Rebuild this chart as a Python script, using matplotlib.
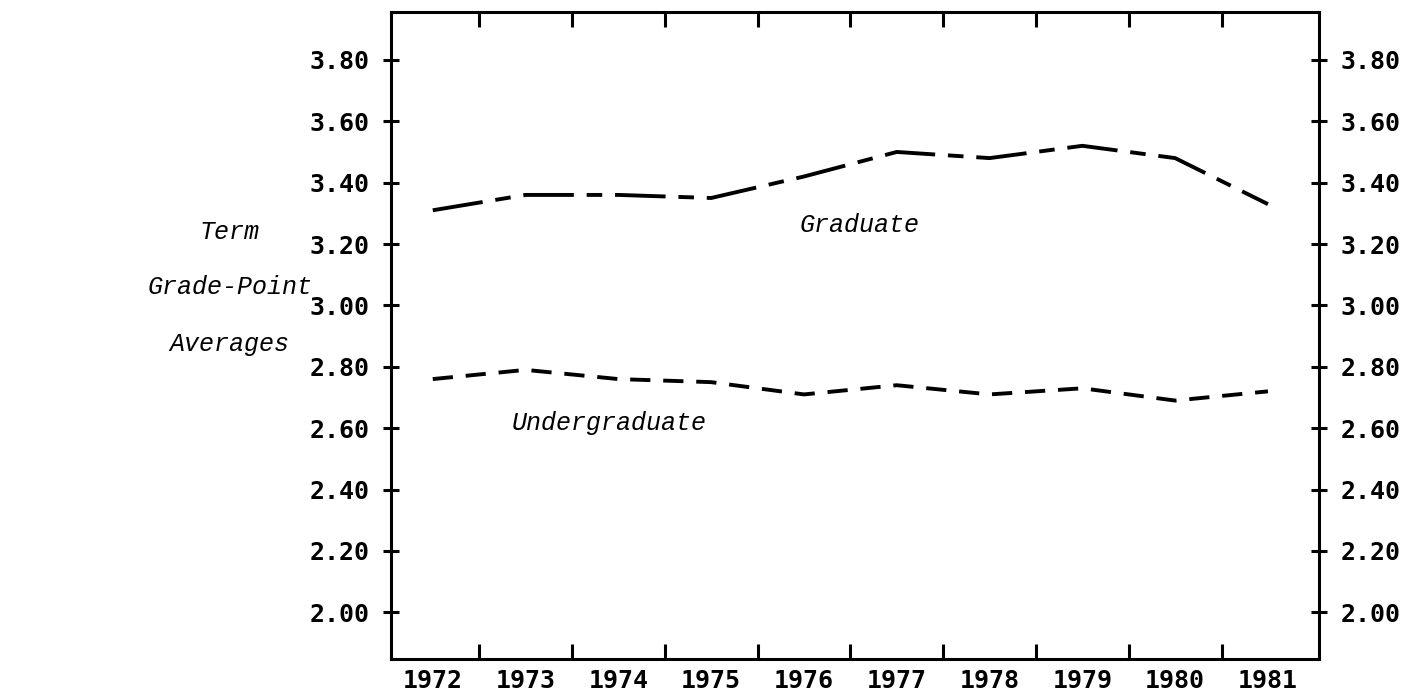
import matplotlib
matplotlib.use("Agg")
import matplotlib.pyplot as plt
import numpy as np

# data
years = [1972, 1973, 1974, 1975, 1976, 1977, 1978, 1979, 1980, 1981]
graduate = [3.31, 3.36, 3.36, 3.35, 3.42, 3.50, 3.48, 3.52, 3.48, 3.33]
undergraduate = [2.76, 2.79, 2.76, 2.75, 2.71, 2.74, 2.71, 2.73, 2.69, 2.72]
gpa_ticks = [2.00, 2.20, 2.40, 2.60, 2.80, 3.00, 3.20, 3.40, 3.60, 3.80]
ylabel_lines = ["Term", "Grade-Point", "Averages"]

tick_font = "DejaVu Sans Mono"
note_font = "Liberation Mono"

fig = plt.figure(figsize=(14.27, 6.98), dpi=100)
ax = fig.add_axes([0.274, 0.0559, 0.6503, 0.9269])

# the two series, drawn with the old pen-plotter dash styles
ax.plot(years, graduate, color="black", lw=2.8,
        linestyle=(0, (13, 3.3, 4, 3.3)))
ax.plot(years, undergraduate, color="black", lw=2.8,
        linestyle=(0, (5.2, 3.3)))

ax.set_xlim(1971.55, 1981.55)
ax.set_ylim(1.848, 3.956)

# year labels sit between the ticks, ticks mark the year boundaries
ax.set_xticks(years)
ax.set_xticklabels([str(y) for y in years], fontfamily=tick_font,
                   fontsize=18, fontweight="bold")
ax.set_xticks(np.array(years[:-1]) + 0.5, minor=True)
ax.tick_params(axis="x", which="major", length=0, pad=7)
ax.tick_params(axis="x", which="minor", direction="in", length=11, width=2.2,
               top=True, bottom=True)

# GPA scale on both sides
ax.set_yticks(gpa_ticks)
ax.set_yticklabels(["%.2f" % v for v in gpa_ticks], fontfamily=tick_font,
                   fontsize=18, fontweight="bold")
ax.tick_params(axis="y", which="major", direction="inout", length=11, width=2.2,
               left=True, right=True, labelleft=True, labelright=True, pad=10)

for spine in ax.spines.values():
    spine.set_linewidth(2.2)

# series labels
ax.text(1976.6, 3.262, "Graduate", fontfamily=note_font, style="italic",
        fontsize=18, ha="center", va="center")
ax.text(1973.9, 2.618, "Undergraduate", fontfamily=note_font, style="italic",
        fontsize=18, ha="center", va="center")

# stacked y-axis caption on the far left
for label, yfrac in zip(ylabel_lines, [0.668, 0.589, 0.507]):
    fig.text(0.161, yfrac, label, fontfamily=note_font, style="italic",
             fontsize=18, ha="center", va="center")

fig.savefig("out.png", dpi=100)
